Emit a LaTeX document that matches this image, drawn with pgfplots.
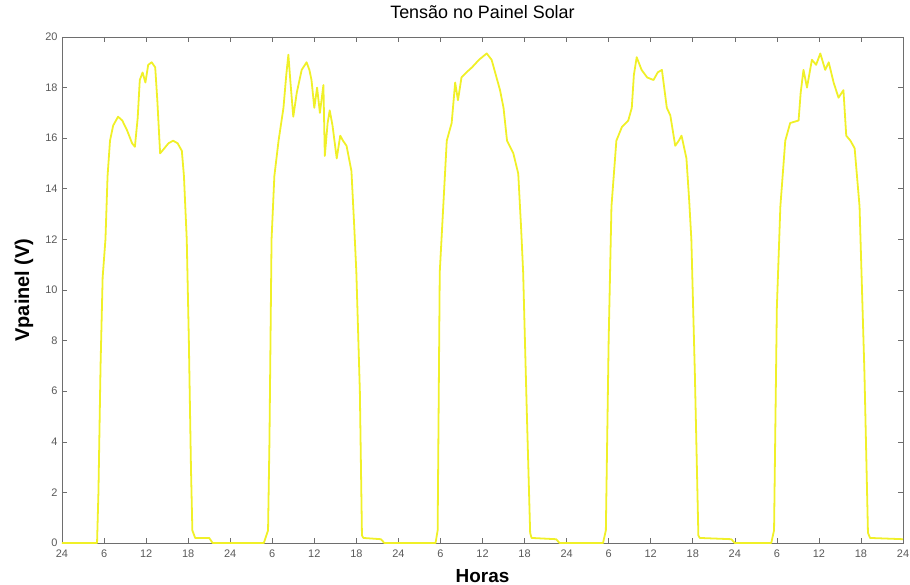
\documentclass[border=0pt]{standalone}
\usepackage{fontspec}
\setmainfont{Liberation Sans}
\usepackage{pgfplots}
\pgfplotsset{compat=1.18}
\definecolor{lineyellow}{RGB}{240,240,40}
\definecolor{axgray}{RGB}{110,110,110}
\begin{document}
\begin{tikzpicture}
\begin{axis}[
  scale only axis,
  width=841bp, height=506bp,
  xmin=0, xmax=120, ymin=0, ymax=20,
  xtick={0,6,...,120},
  xticklabels={24,6,12,18,24,6,12,18,24,6,12,18,24,6,12,18,24,6,12,18,24},
  ytick={0,2,...,20},
  tick align=inside,
  major tick length=5bp,
  axis line style={axgray, line width=0.8pt},
  every tick/.style={axgray, line width=0.6pt},
  tick label style={font=\fontsize{11}{13}\selectfont, text=black!65},
  xticklabel style={yshift=-3bp},
  yticklabel style={xshift=-1bp},
  /pgf/number format/assume math mode=true,
  title={Tensão no Painel Solar},
  title style={font=\fontsize{18}{21}\selectfont, at={(axis description cs:0.5,1)}, anchor=center, yshift=19bp},
  xlabel={\textbf{Horas}},
  ylabel={\textbf{Vpainel (V)}},
  xlabel style={font=\fontsize{19}{22}\selectfont, at={(axis description cs:0.5,0)}, anchor=center, yshift=-33bp},
  ylabel style={font=\fontsize{20}{23}\selectfont, at={(axis description cs:0,0.5)}, anchor=center, yshift=38bp},
]
\addplot[lineyellow, line width=1.8pt, line join=round] coordinates {
(0,0) (5.0,0) (5.2,2) (5.5,7) (5.8,10.5) (6.2,12) (6.5,14.5) (6.85,15.9) (7.3,16.5) (8.0,16.85) (8.6,16.7) (9.3,16.3) (10.0,15.8) (10.4,15.66) (10.8,16.8) (11.1,18.3) (11.5,18.6) (11.9,18.2) (12.3,18.9) (12.8,19.0) (13.3,18.8) (13.6,17.5) (14.0,15.4) (14.6,15.6) (15.2,15.8) (15.85,15.9) (16.5,15.8) (17.1,15.5) (17.4,14.5) (17.8,12) (18.1,8) (18.4,3) (18.6,0.5) (19,0.2) (21,0.2) (21.5,0)
(28.8,0) (29.4,0.5) (29.6,4) (29.9,12) (30.3,14.5) (30.9,15.9) (31.6,17.2) (32.0,18.5) (32.3,19.3) (32.6,18.2) (33.0,16.85) (33.5,17.8) (34.2,18.7) (34.9,19.0) (35.3,18.7) (35.6,18.3) (36.0,17.2) (36.4,18.0) (36.8,17.0) (37.3,18.1) (37.5,15.3) (37.9,16.6) (38.2,17.1) (38.6,16.5) (39.2,15.2) (39.7,16.1) (40.1,15.9) (40.6,15.7) (41.3,14.7) (41.7,12.5) (42.0,10.7) (42.5,6) (42.8,0.3) (43,0.2) (45.5,0.15) (46,0)
(53.3,0) (53.6,0.5) (53.9,10.7) (54.4,13.3) (54.9,15.9) (55.6,16.6) (56.1,18.2) (56.5,17.5) (57.0,18.4) (57.7,18.6) (58.5,18.8) (59.5,19.1) (60.6,19.35) (61.3,19.1) (62.0,18.4) (62.5,17.9) (63.0,17.2) (63.5,15.9) (64.4,15.4) (65.1,14.6) (65.5,12.5) (65.8,10.7) (66.3,5.4) (66.8,0.4) (67,0.2) (70.5,0.15) (71,0)
(77.2,0) (77.6,0.5) (78.0,8.0) (78.4,13.3) (79.1,15.9) (79.9,16.45) (80.8,16.7) (81.3,17.2) (81.6,18.5) (82.0,19.2) (82.7,18.7) (83.5,18.4) (84.4,18.3) (85.0,18.6) (85.6,18.7) (86.3,17.2) (86.8,16.9) (87.5,15.7) (88.0,15.9) (88.4,16.1) (89.1,15.2) (89.5,13.5) (89.8,12) (90.3,6.7) (90.8,0.3) (91,0.2) (95.5,0.15) (96,0)
(101.2,0) (101.6,0.5) (102.0,9.3) (102.5,13.3) (103.2,15.9) (103.9,16.6) (105.1,16.7) (105.4,17.8) (105.8,18.7) (106.3,18.0) (107.0,19.1) (107.6,18.9) (108.2,19.35) (108.9,18.7) (109.4,19.0) (110.1,18.2) (110.8,17.6) (111.5,17.9) (111.9,16.1) (112.5,15.9) (113.1,15.6) (113.8,13.3) (114.5,6.7) (115.0,0.4) (115.3,0.2) (120,0.15)
};
\end{axis}
\pgfresetboundingbox
\path[use as bounding box] (current axis.south west) ++(-62bp,-42bp) rectangle ++(910bp,585bp);
\end{tikzpicture}
\end{document}
